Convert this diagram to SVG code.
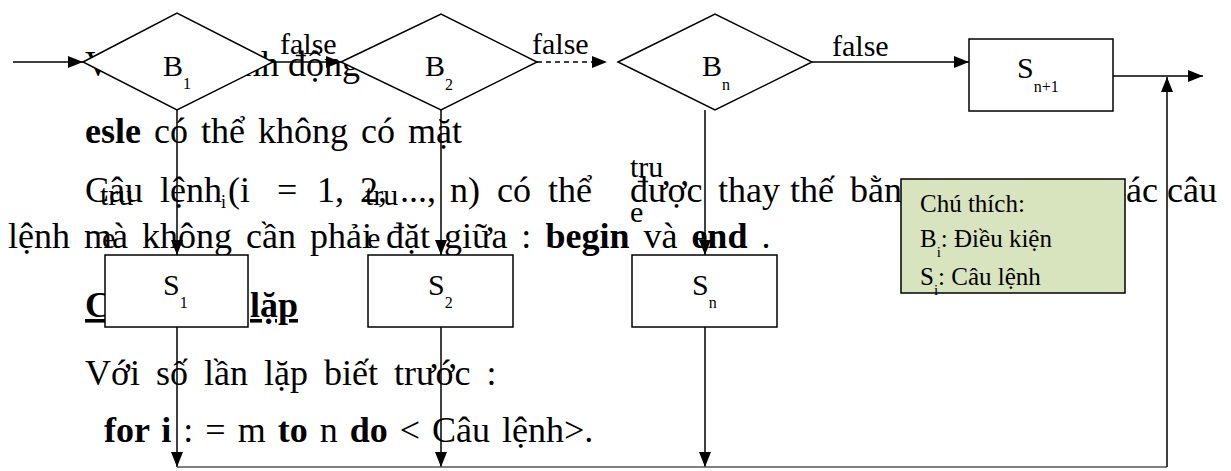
<svg xmlns="http://www.w3.org/2000/svg" width="1231" height="471" viewBox="0 0 1231 471">
<style>
.t{font-family:"Liberation Serif","DejaVu Serif",serif;font-size:36px;fill:#000}
.b{font-weight:bold}
.u{text-decoration:underline}
.lbl{font-family:"Liberation Serif","DejaVu Serif",serif;font-size:30px;fill:#000}
.nm{font-family:"Liberation Serif","DejaVu Serif",serif;font-size:30px;fill:#000}
.sub{font-size:16px}
.leg{font-family:"Liberation Serif","DejaVu Serif",serif;font-size:25px;fill:#000}
.sh{fill:#fff;stroke:#000;stroke-width:1.5}
.c{stroke:#000;stroke-width:1.5;fill:none}
.dash{stroke-dasharray:5,4}
</style>
<defs>
<marker id="ah" markerUnits="userSpaceOnUse" markerWidth="15" markerHeight="12" refX="15" refY="6" orient="auto">
<path d="M0,0 L15,6 L0,12 z" fill="#000"/>
</marker>
</defs>
<rect width="1231" height="471" fill="#fff"/>
<g id="body-text">
<text class="t" y="76"><tspan x="85">V</tspan><tspan x="243">nh động</tspan></text>
<text class="t" x="85" y="143" word-spacing="4"><tspan class="b">esle</tspan> có thể không có mặt</text>
<text class="t" y="202"><tspan x="85">Câu</tspan><tspan x="160">lệnh</tspan><tspan x="221" dy="6" font-size="18">i</tspan><tspan x="228" dy="-6">(i</tspan><tspan x="277">=</tspan><tspan x="317">1,</tspan><tspan x="360">2,</tspan><tspan x="400">...,</tspan><tspan x="450">n)</tspan><tspan x="497">có</tspan><tspan x="548">thể</tspan><tspan x="630">được</tspan><tspan x="718">thay</tspan><tspan x="790">thế</tspan><tspan x="850">bằng</tspan><tspan x="1110">các</tspan><tspan x="1167">câu</tspan></text>
<text class="t" x="8" y="248" word-spacing="5">lệnh mà không cần phải đặt giữa : <tspan class="b">begin</tspan> và <tspan class="b">end</tspan> .</text>
<text class="t b u" x="85" y="317">Câu lệnh</text>
<text class="t b u" x="250" y="317">lặp</text>
<text class="t" x="85" y="385" word-spacing="7">Với số lần lặp biết trước :</text>
<text class="t" x="104" y="442" word-spacing="3"><tspan class="b">for i</tspan> : = m <tspan class="b">to</tspan>  n <tspan class="b">do</tspan> &lt; Câu lệnh&gt;.</text>
</g>
<g id="B1"><polygon class="sh" points="83,62 177,13 273,62 177,110"/><text class="nm" x="163" y="76">B<tspan class="sub" dy="13">1</tspan></text></g>
<g id="B2"><polygon class="sh" points="341,62 441,14 537,62 441,110"/><text class="nm" x="425" y="76">B<tspan class="sub" dy="14">2</tspan></text></g>
<g id="Bn"><polygon class="sh" points="618,62 715,14 812,62 715,110"/><text class="nm" x="702" y="76">B<tspan class="sub" dy="14">n</tspan></text></g>
<g id="Sn1"><rect class="sh" x="969" y="39" width="144" height="72"/><text class="nm" x="1017" y="78">S<tspan class="sub" dy="14">n+1</tspan></text></g>
<g id="S1"><rect class="sh" x="105" y="255" width="143" height="72"/><text class="nm" x="163" y="295">S<tspan class="sub" dy="13">1</tspan></text></g>
<g id="S2"><rect class="sh" x="368" y="255" width="145" height="72"/><text class="nm" x="428" y="295">S<tspan class="sub" dy="13">2</tspan></text></g>
<g id="Sn"><rect class="sh" x="632" y="255" width="145" height="72"/><text class="nm" x="692" y="295">S<tspan class="sub" dy="13">n</tspan></text></g>
<g id="legend"><rect x="901" y="179" width="224" height="114" fill="#d7e4bd" stroke="#000" stroke-width="1.5"/>
<text class="leg" x="920" y="212">Chú thích:</text>
<text class="leg" x="920" y="247">B<tspan font-size="15" dy="10">i</tspan><tspan dy="-10">: Điều kiện</tspan></text>
<text class="leg" x="920" y="285">S<tspan font-size="15" dy="10">i</tspan><tspan dy="-10">: Câu lệnh</tspan></text>
</g>
<g id="connectors">
<line class="c" x1="13" y1="62" x2="83" y2="62" marker-end="url(#ah)"/>
<line class="c" x1="273" y1="62" x2="341" y2="62" marker-end="url(#ah)"/>
<line class="c dash" x1="537" y1="62" x2="607" y2="62" marker-end="url(#ah)"/>
<line class="c" x1="812" y1="62" x2="969" y2="62" marker-end="url(#ah)"/>
<line class="c" x1="1113" y1="76" x2="1203" y2="76" marker-end="url(#ah)"/>
<line class="c" x1="177" y1="110" x2="177" y2="255" marker-end="url(#ah)"/>
<line class="c" x1="441" y1="110" x2="441" y2="255" marker-end="url(#ah)"/>
<line class="c" x1="705" y1="110" x2="705" y2="255" marker-end="url(#ah)"/>
<line class="c" x1="177" y1="327" x2="177" y2="467" marker-end="url(#ah)"/>
<line class="c" x1="441" y1="327" x2="441" y2="467" marker-end="url(#ah)"/>
<line class="c" x1="705" y1="327" x2="705" y2="467" marker-end="url(#ah)"/>
<line x1="177" y1="467" x2="1167" y2="467" stroke="#555" stroke-width="1.5"/>
<line class="c" x1="1167" y1="467" x2="1167" y2="77" marker-end="url(#ah)"/>
<text class="lbl" x="280" y="54">false</text>
<text class="lbl" x="532" y="54">false</text>
<text class="lbl" x="832" y="56">false</text>
<text class="lbl" x="100" y="205">tru</text><text class="lbl" x="102" y="248">e</text>
<text class="lbl" x="365" y="205">tru</text><text class="lbl" x="367" y="248">e</text>
<text class="lbl" x="630" y="177">tru</text><text class="lbl" x="630" y="222">e</text>
</g>
</svg>
